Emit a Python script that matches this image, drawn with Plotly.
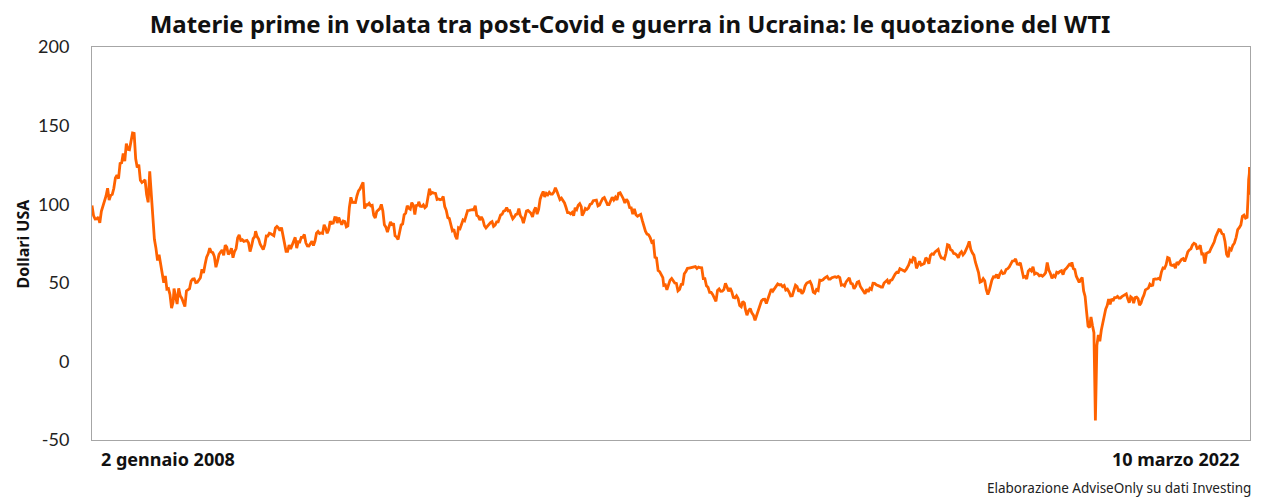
import numpy as np
import pandas as pd
import plotly.graph_objects as go

# WTI weekly-ish quotations (USD per barrel)
wti_2008 = [99.2, 92.7, 90.6, 90.7, 91.8, 88.1, 95.5, 98.8, 101.8, 105.2, 110.2, 102.6, 105.6,
            106.2, 110.1, 116.7, 118.5, 116.3, 125.9, 126.3, 132.2, 127.4, 138.5, 134.9, 134.6,
            140.2, 145.3, 145.1, 128.9, 123.3, 125.1, 115.2, 113.8, 114.6, 115.5, 106.2, 101.2,
            120.9, 106.9, 93.9, 77.7, 71.9, 64.2, 67.8, 61.0, 57.0, 50.0, 54.4, 46.0, 46.3,
            42.4, 33.9, 37.7]
wti_2009 = [46.3, 40.8, 36.5, 46.5, 41.7, 40.2, 37.5, 34.9, 44.8, 45.5, 46.3, 51.1, 52.4,
            52.5, 50.1, 50.3, 51.5, 53.2, 58.6, 56.3, 61.7, 66.3, 68.4, 72.0, 69.6, 69.2,
            66.7, 59.9, 63.6, 68.1, 69.5, 70.9, 67.5, 73.9, 72.7, 68.0, 69.3, 72.0, 66.0,
            69.9, 71.8, 78.5, 80.5, 77.0, 77.4, 76.4, 76.7, 77.0, 75.5, 69.9, 73.4, 78.1, 79.4]
wti_2010 = [82.8, 79.4, 77.8, 74.5, 72.9, 71.2, 74.1, 79.8, 79.7, 81.5, 81.2, 80.7, 80.0,
            84.9, 85.8, 84.9, 83.2, 85.1, 79.9, 75.1, 70.0, 70.0, 74.0, 71.5, 73.8, 77.2,
            78.9, 72.1, 76.1, 76.0, 78.9, 78.9, 80.7, 75.4, 73.5, 73.4, 74.6, 76.5, 73.7,
            76.5, 81.6, 82.7, 81.3, 81.7, 81.4, 86.9, 84.9, 81.5, 83.8, 89.2, 87.8, 88.0,
            91.5, 91.4]
wti_2011 = [88.0, 91.5, 89.1, 87.0, 89.3, 89.0, 85.6, 86.2, 97.9, 104.4, 101.2, 101.1, 101.1,
            105.4, 108.5, 109.7, 112.3, 113.9, 97.2, 99.7, 99.5, 100.6, 99.0, 99.3, 93.0,
            91.2, 95.4, 96.2, 97.2, 99.9, 95.7, 86.9, 85.4, 82.3, 85.4, 88.8, 86.5, 87.9,
            79.9, 79.2, 77.6, 82.98, 86.8, 87.4, 93.3, 94.3, 98.99, 97.4, 96.8, 100.96, 99.4,
            93.5, 99.7, 98.8]
wti_2012 = [101.6, 98.7, 98.5, 99.6, 97.8, 98.7, 103.2, 109.8, 106.7, 107.4, 107.1, 106.9,
            103.0, 103.3, 102.8, 103.1, 104.9, 98.5, 96.1, 91.5, 90.9, 86.5, 83.2, 84.1,
            79.8, 77.7, 84.96, 84.4, 87.1, 90.0, 89.4, 92.9, 96.0, 96.1, 96.5, 96.5, 96.4,
            99.0, 92.9, 92.2, 89.9, 91.9, 90.1, 86.3, 84.9, 86.1, 87.0, 88.3, 88.9, 85.9,
            86.7, 88.7, 88.7, 91.8]
wti_2013 = [93.1, 93.6, 95.6, 95.9, 97.8, 95.7, 95.9, 93.1, 90.7, 91.9, 93.5, 93.7, 97.2,
            92.7, 91.3, 88.0, 93.0, 95.6, 96.0, 95.0, 94.2, 91.97, 96.0, 97.9, 93.7, 96.6,
            103.2, 106.0, 108.1, 104.7, 106.9, 105.97, 107.5, 106.4, 106.4, 107.7, 110.5,
            108.2, 104.7, 102.9, 103.8, 102.0, 100.8, 97.9, 94.6, 94.6, 93.8, 94.8, 92.7,
            97.7, 96.6, 99.3, 100.3, 98.4]
wti_2014 = [92.7, 94.6, 97.3, 96.6, 97.5, 99.9, 100.3, 102.2, 102.6, 102.6, 98.9, 99.5,
            101.7, 103.7, 104.3, 101.6, 99.8, 99.8, 102.0, 104.4, 102.7, 104.4, 102.7, 106.9,
            107.3, 105.7, 103.5, 100.8, 103.1, 101.7, 97.9, 97.7, 93.7, 96.96, 93.3, 92.3,
            92.9, 93.5, 89.7, 85.8, 82.8, 81.0, 80.5, 78.7, 75.8, 76.5, 66.2, 65.8, 57.8,
            57.1, 54.7, 53.3]
wti_2015 = [48.4, 48.7, 45.6, 48.2, 51.7, 52.8, 50.8, 49.8, 49.6, 44.8, 45.7, 48.9, 49.1,
            55.7, 57.2, 59.2, 59.4, 59.7, 59.7, 60.3, 60.3, 59.1, 60.0, 59.6, 59.5, 52.7,
            52.7, 48.1, 47.1, 43.9, 43.9, 42.5, 40.5, 38.2, 45.2, 46.1, 44.6, 44.7, 45.7,
            49.6, 47.3, 44.6, 46.6, 44.3, 40.7, 40.4, 41.7, 39.97, 35.6, 34.7, 38.1, 37.0]
wti_2016 = [33.2, 29.4, 32.2, 33.6, 30.9, 29.4, 26.2, 29.6, 32.8, 35.9, 38.5, 39.4, 39.5,
            36.8, 40.4, 43.7, 45.9, 44.7, 46.2, 48.4, 49.3, 48.6, 48.9, 47.6, 48.3, 45.4,
            45.95, 44.2, 41.6, 41.8, 44.5, 48.5, 47.6, 44.4, 45.9, 43.0, 44.5, 48.2, 49.8,
            50.4, 50.85, 48.7, 44.1, 43.4, 45.7, 45.1, 51.7, 51.5, 51.9, 53.0, 53.7]
wti_2017 = [53.99, 52.4, 52.4, 53.2, 53.8, 53.9, 53.4, 53.99, 53.3, 48.5, 48.8, 47.97, 50.6,
            52.2, 53.2, 49.6, 49.3, 46.2, 47.8, 50.3, 50.8, 47.7, 45.8, 44.7, 43.0, 46.0,
            44.2, 46.5, 45.8, 49.7, 49.6, 48.8, 48.5, 47.9, 47.3, 47.3, 49.9, 50.7, 51.7,
            49.3, 51.5, 51.9, 53.9, 55.6, 56.7, 56.6, 58.95, 58.4, 57.4, 57.3, 58.5, 60.4]
wti_2018 = [61.4, 64.3, 63.4, 66.1, 65.5, 59.2, 61.7, 63.6, 61.3, 62.0, 62.3, 65.9, 64.9,
            62.1, 67.4, 68.4, 68.1, 69.7, 70.7, 71.3, 67.9, 65.8, 65.7, 65.1, 68.6, 74.2,
            73.8, 71.0, 70.5, 68.7, 68.5, 67.6, 65.9, 68.7, 69.8, 67.8, 68.99, 70.8, 73.3,
            76.4, 71.3, 69.1, 67.6, 63.1, 60.2, 56.5, 50.4, 50.9, 52.6, 51.2, 45.6, 42.5, 45.3]
wti_2019 = [47.96, 51.6, 53.8, 53.7, 55.3, 52.7, 55.6, 57.3, 55.8, 56.1, 58.5, 59.0, 60.1,
            62.1, 63.9, 64.0, 65.2, 61.9, 61.7, 62.8, 58.6, 53.5, 53.99, 52.5, 57.4, 58.5,
            57.5, 60.2, 55.6, 56.2, 55.7, 54.5, 54.9, 54.2, 55.1, 56.5, 62.9, 58.1, 55.9,
            52.8, 54.7, 53.8, 56.7, 56.2, 57.2, 57.7, 55.2, 58.2, 59.1, 60.1, 61.7, 61.1]
wti_2020 = [63.05, 59.0, 58.5, 54.2, 51.6, 50.3, 52.05, 53.4, 44.8, 41.3, 31.7, 22.4, 21.5,
            28.3, 22.8, 18.3, -37.6, 10.0, 16.9, 12.8, 19.8, 24.7, 29.4, 33.3, 35.5, 39.6,
            36.3, 39.8, 38.5, 40.6, 40.6, 41.3, 40.3, 40.3, 41.2, 42.0, 42.3, 42.97, 39.8,
            37.3, 41.1, 40.3, 37.05, 40.6, 40.9, 39.85, 35.8, 37.1, 40.1, 42.2, 45.5, 46.3,
            46.6, 49.1, 48.2, 48.5]
wti_2021 = [52.2, 52.4, 52.3, 52.8, 52.2, 56.85, 59.5, 59.2, 61.5, 66.1, 65.6, 61.4, 60.97,
            61.45, 59.3, 63.1, 62.1, 63.6, 64.9, 65.4, 63.6, 66.3, 69.6, 70.9, 71.6, 74.05,
            75.2, 74.6, 71.8, 72.1, 73.95, 68.3, 68.4, 62.3, 68.7, 69.3, 69.7, 71.97, 73.98,
            75.9, 79.4, 82.3, 83.8, 83.6, 81.3, 80.8, 76.1, 68.15, 66.3, 71.7, 70.9, 73.8, 75.2]
dates_2022 = ["2022-01-07", "2022-01-14", "2022-01-21", "2022-01-28", "2022-02-04",
              "2022-02-11", "2022-02-18", "2022-02-25", "2022-03-01", "2022-03-02",
              "2022-03-03", "2022-03-04", "2022-03-07", "2022-03-08", "2022-03-09",
              "2022-03-10"]
wti_2022 = [78.9, 83.8, 85.1, 86.8, 92.3, 93.1, 91.1, 91.6, 103.4, 110.6, 107.7, 115.7,
            119.4, 123.7, 108.7, 106.0]

y_tickvals = [-50, 0, 50, 100, 150, 200]
y_ticktext = ["-50", "0", "50", "100", "150", "200"]

yearly = {2008: wti_2008, 2009: wti_2009, 2010: wti_2010, 2011: wti_2011, 2012: wti_2012,
          2013: wti_2013, 2014: wti_2014, 2015: wti_2015, 2016: wti_2016, 2017: wti_2017,
          2018: wti_2018, 2019: wti_2019, 2020: wti_2020, 2021: wti_2021}

x_all, y_all = [], []
for yr, vals in yearly.items():
    start = "2008-01-02" if yr == 2008 else f"{yr}-01-03"
    d = pd.date_range(start, f"{yr}-12-30", periods=len(vals))
    x_all.extend(list(d))
    y_all.extend(vals)
x_all.extend(list(pd.to_datetime(dates_2022)))
y_all.extend(wti_2022)

title_text = "Materie prime in volata tra post-Covid e guerra in Ucraina: le quotazione del WTI"
y_title = "Dollari USA"
x_start_label = "2 gennaio 2008"
x_end_label = "10 marzo 2022"
source_text = "Elaborazione AdviseOnly su dati Investing"

FONT = "Noto Sans"
ORANGE = "#FF6200"

# the page body adds an 8px offset; figure sized to fit the 1262x503 window
W, H = 1254, 495
fig = go.Figure()
fig.add_trace(go.Scatter(x=x_all, y=y_all, mode="lines",
                         line=dict(color=ORANGE, width=2.8), hoverinfo="x+y",
                         showlegend=False))

fig.update_layout(
    width=W, height=H,
    margin=dict(l=84, r=12, t=39, b=63, autoexpand=False),
    paper_bgcolor="white", plot_bgcolor="white",
    font=dict(family=FONT, color="#111111"),
    title=dict(text=f"<b>{title_text}</b>", x=622 / W, xanchor="center",
               y=1 - 17 / H, yanchor="middle", yref="container",
               font=dict(family=FONT, size=24, color="#111111")),
)
fig.update_xaxes(range=["2008-01-02", "2022-03-10"], showgrid=False, zeroline=False,
                 showticklabels=False, ticks="", showline=True, mirror=True,
                 linecolor="#a6a6a6", linewidth=1, automargin=False)
fig.update_yaxes(range=[-50, 200], tickvals=y_tickvals, ticktext=y_ticktext,
                 showgrid=False, zeroline=False,
                 ticks="", ticklabelstandoff=18, showline=True, mirror=True,
                 linecolor="#a6a6a6", linewidth=1, automargin=False,
                 tickfont=dict(family="Lato", size=18, color="#222222"))

fig.add_annotation(text=f"<b>{y_title}</b>", xref="paper", yref="paper",
                   x=-0.0604, y=0.5, textangle=-90, showarrow=False,
                   xanchor="center", yanchor="middle",
                   font=dict(family=FONT, size=16, color="#111111"))
fig.add_annotation(text=f"<b>{x_start_label}</b>", xref="paper", yref="paper",
                   x=0.006, y=-0.049, xanchor="left", yanchor="middle", showarrow=False,
                   font=dict(family=FONT, size=18, color="#111111"))
fig.add_annotation(text=f"<b>{x_end_label}</b>", xref="paper", yref="paper",
                   x=0.993, y=-0.049, xanchor="right", yanchor="middle", showarrow=False,
                   font=dict(family=FONT, size=18, color="#111111"))
fig.add_annotation(text=source_text, xref="paper", yref="paper",
                   x=1.003, y=-0.122, xanchor="right", yanchor="middle", showarrow=False,
                   font=dict(family=FONT, size=13.5, color="#222222"))

fig.write_html("out.html")
